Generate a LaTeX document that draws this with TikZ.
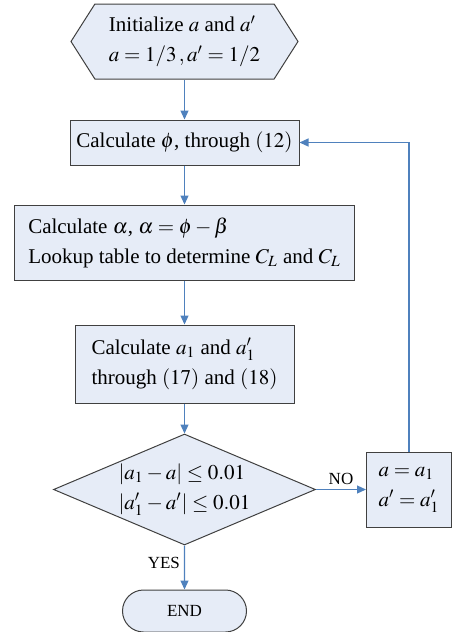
\documentclass[tikz,border=0pt]{standalone}
\usepackage{mathptmx}
\usepackage{fontspec}
\setmainfont{Liberation Serif}
\usetikzlibrary{arrows.meta,positioning,shapes.geometric,shapes.symbols,shapes.misc}
\definecolor{boxfill}{HTML}{E6ECF7}
\definecolor{flowblue}{HTML}{4F81BD}
\tikzset{
  box/.style={draw=black!75, fill=boxfill, line width=0.5pt, align=left,
    inner sep=0pt, font=\fontsize{10.5}{15}\selectfont},
  hexbox/.style={box, signal, signal to=west and east, signal pointer angle=115},
  decide/.style={box, diamond, aspect=2.36},
  endbox/.style={box, rounded rectangle, font=\fontsize{8.5}{10}\selectfont},
  lbl/.style={font=\fontsize{8.5}{10}\selectfont, inner sep=2pt},
  arr/.style={-{Triangle[length=4.5pt,width=4pt]}, line width=0.6pt, draw=flowblue}
}
\begin{document}
\begin{tikzpicture}[node distance=20pt and 25pt]
\useasboundingbox (0,0) rectangle (225.5pt,-316pt);
\node[hexbox, minimum width=113.5pt, minimum height=37.5pt] (init) at (92.25pt,-20.75pt)
  {Initialize $a$ and $a'$\\ $a=1/3\,,a'=1/2$};
\node[box, below=20pt of init, minimum width=114.5pt, minimum height=22.5pt] (phi)
  {Calculate $\phi$, through $\left(12\right)$};
\node[box, below=19.5pt of phi, minimum width=170pt, minimum height=37.5pt] (alpha)
  {Calculate $\alpha$, $\alpha=\phi-\beta$\\ Lookup table to determine $C_L$ and $C_L$};
\node[box, below=22pt of alpha, minimum width=109.5pt, minimum height=39pt] (ai)
  {Calculate $a_1$ and $a_1'$\\ through $\left(17\right)$ and $\left(18\right)$};
\node[decide, below=15pt of ai, minimum width=131pt, minimum height=55.5pt] (chk)
  {$\left|a_1-a\right|\le 0.01$\\ $\left|a_1'-a'\right|\le 0.01$};
\node[box, right=25pt of chk, minimum width=42.5pt, minimum height=37.5pt] (upd)
  {$a=a_1$\\ $a'=a_1'$};
\node[endbox, below=22pt of chk, minimum width=62pt, minimum height=21pt] (fin) {END};

\draw[arr] (init) -- (phi);
\draw[arr] (phi) -- (alpha);
\draw[arr] (alpha) -- (ai);
\draw[arr] (ai) -- (chk);
\draw[arr] (chk) -- node[lbl, above] {NO} (upd);
\draw[arr] (chk) -- node[lbl, left, pos=0.4] {YES} (fin);
\draw[arr] (upd.north) |- (phi.east);
\end{tikzpicture}
\end{document}
